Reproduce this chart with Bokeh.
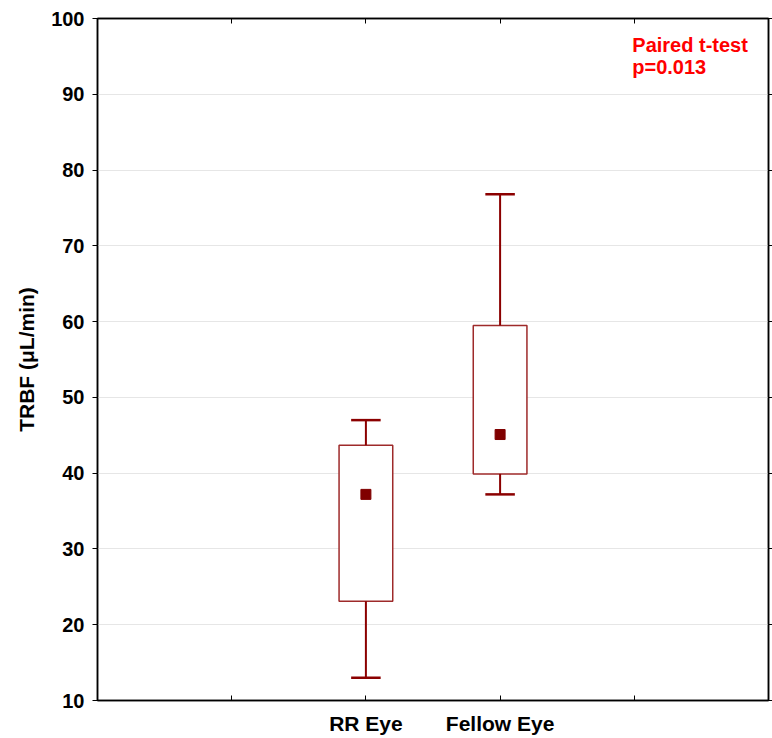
from bokeh.plotting import figure
from bokeh.models import Range1d, FixedTicker, LinearAxis, Label
from bokeh.embed import file_html
from bokeh.resources import INLINE

# ---- data ----
categories = ["RR Eye", "Fellow Eye"]
cat_pos = [2, 3]
whisker_low = [13.0, 37.2]
box_low = [23.1, 39.9]
means = [37.2, 45.1]
box_high = [43.7, 59.5]
whisker_high = [47.0, 76.8]
y_ticks = [10, 20, 30, 40, 50, 60, 70, 80, 90, 100]
x_ticks = [1, 2, 3, 4]
annotation_lines = ["Paired t-test", "p=0.013"]
y_title = "TRBF (\u03bcL/min)"

DARK = "#8B0000"
BOXC = "#9E2A2A"
FONT = "Liberation Sans"

p = figure(width=772, height=738, output_backend="svg", toolbar_location=None,
           x_range=Range1d(0, 5), y_range=Range1d(10, 100),
           min_border_left=97, min_border_right=2, min_border_top=18, min_border_bottom=38)
p.outline_line_color = "black"
p.outline_line_width = 1.5
p.background_fill_color = "white"
p.border_fill_color = "white"

p.xgrid.visible = False
p.ygrid.ticker = FixedTicker(ticks=y_ticks)
p.ygrid.grid_line_color = "#e6e6e6"
p.ygrid.grid_line_width = 1

ya = p.yaxis[0]
ya.ticker = FixedTicker(ticks=y_ticks)
ya.axis_line_color = "black"
ya.axis_line_width = 1.5
ya.major_tick_out = 5
ya.major_tick_in = 0
ya.minor_tick_line_color = None
ya.major_label_text_font = FONT
ya.major_label_text_font_style = "bold"
ya.major_label_text_font_size = "20px"
ya.major_label_text_color = "black"
ya.major_label_standoff = 8
ya.axis_label = y_title
ya.axis_label_text_font = FONT
ya.axis_label_text_font_style = "bold"
ya.axis_label_text_font_size = "21px"
ya.axis_label_text_color = "black"
ya.axis_label_standoff = 10

xa = p.xaxis[0]
xa.ticker = FixedTicker(ticks=x_ticks)
xa.major_label_overrides = {1: "", 2: categories[0], 3: categories[1], 4: ""}
xa.axis_line_color = "black"
xa.axis_line_width = 1.5
xa.major_tick_in = 5
xa.major_tick_out = 0
xa.minor_tick_line_color = None
xa.major_label_text_font = FONT
xa.major_label_text_font_style = "bold"
xa.major_label_text_font_size = "21px"
xa.major_label_text_color = "black"
xa.major_label_standoff = 11

top = LinearAxis(ticker=FixedTicker(ticks=x_ticks), major_label_text_color=None,
                 major_label_text_font_size="1px",
                 major_tick_in=5, major_tick_out=0, minor_tick_line_color=None,
                 axis_line_width=1.5)
right = LinearAxis(ticker=FixedTicker(ticks=y_ticks), major_label_text_color=None,
                   major_label_text_font_size="1px",
                   major_tick_in=0, major_tick_out=4, minor_tick_line_color=None,
                   axis_line_width=1.5)
p.add_layout(top, "above")
p.add_layout(right, "right")

p.vbar(x=cat_pos, bottom=box_low, top=box_high, width=0.4,
       fill_color="white", line_color=BOXC, line_width=1.5)
p.segment(x0=cat_pos, y0=box_high, x1=cat_pos, y1=whisker_high, line_color=DARK, line_width=2)
p.segment(x0=cat_pos, y0=box_low, x1=cat_pos, y1=whisker_low, line_color=DARK, line_width=2)
cap = 0.11
p.segment(x0=[c - cap for c in cat_pos], y0=whisker_high, x1=[c + cap for c in cat_pos], y1=whisker_high,
          line_color=DARK, line_width=2.5)
p.segment(x0=[c - cap for c in cat_pos], y0=whisker_low, x1=[c + cap for c in cat_pos], y1=whisker_low,
          line_color=DARK, line_width=2.5)
p.scatter(x=cat_pos, y=means, marker="square", size=10, fill_color="#800000", line_color="#800000")

for i, t in enumerate(annotation_lines):
    p.add_layout(Label(x=3.985, y=98.0 - i * 3.0, text=t, text_color="#FF0000",
                       text_font=FONT, text_font_style="bold", text_font_size="20px",
                       text_baseline="top", text_align="left"))

open("out.html", "w").write(file_html(p, INLINE))
